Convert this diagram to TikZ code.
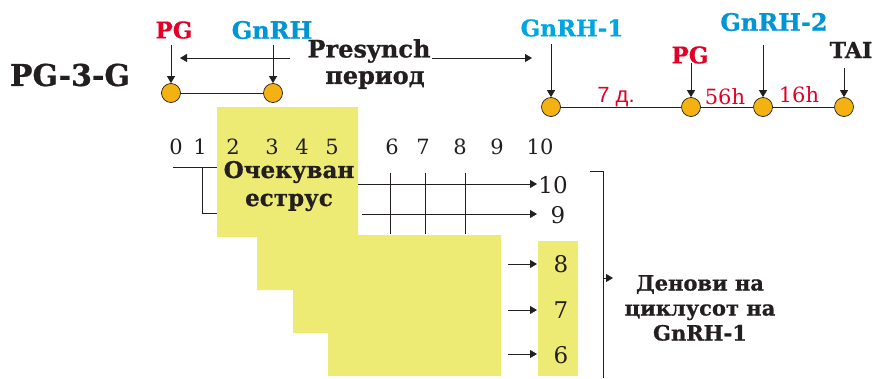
\documentclass[tikz,border=0pt]{standalone}
\usepackage{fontspec}
\setmainfont{DejaVu Serif}[BoldFeatures={FakeBold=0.8}]
\newfontfamily\sansf{Liberation Sans}
\usetikzlibrary{arrows.meta}
\definecolor{myred}{RGB}{226,0,38}
\definecolor{myblue}{RGB}{0,150,214}
\definecolor{myblueL}{RGB}{0,165,225}
\definecolor{dotc}{RGB}{243,178,18}
\definecolor{yel}{RGB}{237,235,115}
\definecolor{ink}{RGB}{35,31,32}
\tikzset{
  lbl/.style={inner sep=0pt, text=ink, font=\bfseries\fontsize{22}{22}\selectfont},
  dot/.style={circle, draw=ink, fill=dotc, minimum size=19pt, inner sep=0pt, line width=0.7pt},
  arr/.style={draw=ink, line width=0.8pt, -{Triangle[length=7pt,width=8pt]}},
  ln/.style={draw=ink, line width=0.8pt},
  num/.style={inner sep=0pt, text=ink, font=\fontsize{21}{21}\selectfont},
  rnum/.style={inner sep=0pt, text=myred, font=\fontsize{21}{21}\selectfont},
}
\begin{document}
\begin{tikzpicture}[x=1pt,y=-1pt]
\useasboundingbox (0,0) rectangle (875,378);

% title
\node[lbl, font=\bfseries\fontsize{30}{30}\selectfont] (title) at (70,75) {PG-3-G};

% top-left timeline
\node[lbl, text=myred, font=\bfseries\fontsize{23}{23}\selectfont] (pg1) at (174,30) {PG};
\node[lbl, text=myblue, font=\bfseries\fontsize{24}{24}\selectfont] (gn1) at (272,30) {GnRH};
\node[dot] (c1) at (171,93) {};
\node[dot] (c2) at (273,93) {};
\coordinate (a1) at (171,45);
\coordinate (a2) at (273,45);
\draw[arr] (a1) -- (c1);
\draw[arr] (a2) -- (c2);
\draw[ln] (c1) -- (c2);

\node[lbl, font=\bfseries\fontsize{24}{24}\selectfont] (pres) at (369,51) {Presynch};
\node[lbl, font=\bfseries\fontsize{24}{24}\selectfont] (per) at (375,80) {период};
\coordinate (pL) at (290,58);
\coordinate (pLt) at (180,58);
\coordinate (pR) at (432,58);
\coordinate (pRt) at (532,58);
\draw[arr] (pL) -- (pLt);
\draw[arr] (pR) -- (pRt);

% top-right timeline
\node[lbl, text=myblueL, font=\bfseries\fontsize{23}{23}\selectfont] (gn2) at (572,28) {GnRH-1};
\node[lbl, text=myred, font=\bfseries\fontsize{23}{23}\selectfont] (pg2) at (690,55) {PG};
\node[lbl, text=myblue, font=\bfseries\fontsize{24}{24}\selectfont] (gn3) at (774,22) {GnRH-2};
\node[lbl] (tai) at (851,50) {TAI};
\node[dot] (c3) at (551,107) {};
\node[dot] (c4) at (691,107) {};
\node[dot] (c5) at (763,107) {};
\node[dot] (c6) at (844,107) {};
\draw[ln] (c3) -- (c4) -- (c5) -- (c6);
\coordinate (a3) at (551,44);
\coordinate (a4) at (691,63);
\coordinate (a5) at (763,45);
\coordinate (a6) at (844,68);
\draw[arr] (a3) -- (c3);
\draw[arr] (a4) -- (c4);
\draw[arr] (a5) -- (c5);
\draw[arr] (a6) -- (c6);
\node[rnum, font=\sansf\fontsize{22}{22}\selectfont] (d7) at (616,97) {7 д.};
\node[rnum] (h56) at (725,97) {56h};
\node[rnum] (h16) at (799,95) {16h};

% left bracket (under yellow)
\coordinate (b1) at (173,167);
\coordinate (b2) at (220,167);
\coordinate (b3) at (202,167);
\coordinate (b4) at (202,213);
\coordinate (b5) at (220,213);
\draw[ln] (b1) -- (b2);
\draw[ln] (b3) -- (b4) -- (b5);

% yellow areas
\fill[yel] (217,107) -- (358,107) -- (358,235) -- (501,235) -- (501,376) -- (328,376)
  -- (328,333) -- (293,333) -- (293,290) -- (257,290) -- (257,237) -- (217,237) -- cycle;
\fill[yel] (538,241) rectangle (578,376);

% day numbers
\foreach \n/\x in {0/176,1/200,2/233,3/272,4/302,5/332,6/392,7/423,8/460,9/497,10/540}
  \node[num] (n\n) at (\x,147) {\n};

\node[lbl, align=center, font=\bfseries\fontsize{23}{28}\selectfont] (oe) at (289,186) {Очекуван\\еструс};

% grid lines
\foreach \x/\k in {390/a,425/b,465/c}{
  \coordinate (v\k1) at (\x,173);
  \coordinate (v\k2) at (\x,234);
  \draw[ln] (v\k1) -- (v\k2);
}

% arrows to days
\node[num, font=\fontsize{23}{23}\selectfont] (r10) at (553,185) {10};
\node[num, font=\fontsize{23}{23}\selectfont] (r9) at (558,215) {9};
\node[num, font=\fontsize{23}{23}\selectfont] (r8) at (561,264) {8};
\node[num, font=\fontsize{23}{23}\selectfont] (r7) at (561,310) {7};
\node[num, font=\fontsize{23}{23}\selectfont] (r6) at (561,355) {6};
\coordinate (s10) at (358,184);
\coordinate (t10) at (537,184);
\coordinate (s9) at (362,214);
\coordinate (t9) at (537,214);
\coordinate (s8) at (508,264);
\coordinate (t8) at (537,264);
\coordinate (s7) at (508,310);
\coordinate (t7) at (537,310);
\coordinate (s6) at (508,354);
\coordinate (t6) at (537,354);
\draw[arr] (s10) -- (t10);
\draw[arr] (s9) -- (t9);
\draw[arr] (s8) -- (t8);
\draw[arr] (s7) -- (t7);
\draw[arr] (s6) -- (t6);

% right bracket
\coordinate (rb1) at (590,171);
\coordinate (rb2) at (603,171);
\coordinate (rb3) at (603,378);
\coordinate (rb4) at (603,278);
\coordinate (rb5) at (613,278);
\draw[ln] (rb1) -- (rb2) -- (rb3);
\draw[arr] (rb4) -- (rb5);
\node[lbl, align=center, font=\bfseries\fontsize{21}{25}\selectfont] (den) at (700,308) {Денови на\\циклусот на\\GnRH-1};
\end{tikzpicture}
\end{document}
